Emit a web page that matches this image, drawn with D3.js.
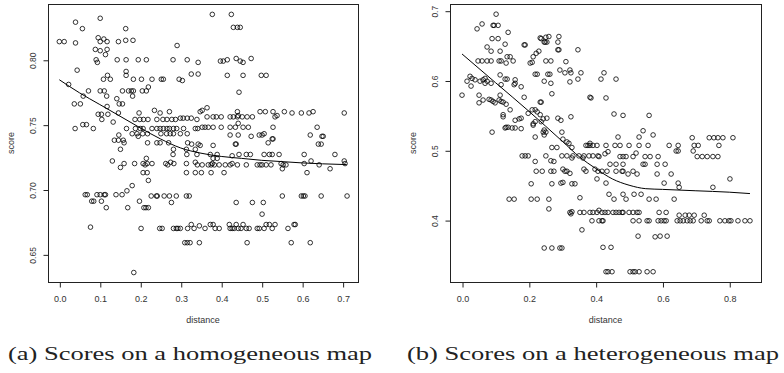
<!DOCTYPE html>
<html><head><meta charset="utf-8">
<script src="https://cdn.jsdelivr.net/npm/d3@7"></script>
<style>body{margin:0;background:#fff}</style></head>
<body><svg id="chart" width="784" height="373"></svg>
<script>
// (a) homogeneous map: [distance, score]
const homPoints = [
[0.101,0.832],[0.040,0.829],[0.057,0.824],[0.164,0.824],
[0.000,0.814],[0.012,0.814],[0.040,0.813],[0.096,0.817],[0.110,0.816],[0.101,0.814],[0.118,0.814],[0.146,0.814],[0.164,0.815],[0.182,0.815],
[0.291,0.811],[0.089,0.808],[0.101,0.807],[0.118,0.808],[0.114,0.804],
[0.091,0.800],[0.094,0.798],[0.143,0.800],[0.165,0.800],[0.195,0.800],[0.215,0.800],[0.281,0.800],[0.316,0.800],[0.343,0.798],
[0.044,0.792],[0.165,0.791],[0.165,0.788],[0.119,0.788],[0.109,0.785],[0.126,0.785],[0.183,0.785],[0.203,0.785],[0.229,0.785],[0.252,0.785],[0.257,0.785],[0.296,0.785],[0.304,0.784],[0.326,0.789],[0.343,0.789],
[0.023,0.781],[0.072,0.776],[0.101,0.776],[0.111,0.776],[0.117,0.772],[0.156,0.776],[0.171,0.776],[0.178,0.776],[0.183,0.776],[0.181,0.772],[0.205,0.776],[0.215,0.776],[0.220,0.779],[0.059,0.772],
[0.142,0.770],[0.148,0.766],[0.156,0.766],[0.037,0.766],[0.052,0.766],[0.118,0.764],
[0.096,0.758],[0.104,0.758],[0.105,0.754],[0.120,0.758],[0.133,0.752],[0.146,0.759],
[0.058,0.750],[0.067,0.750],[0.039,0.747],[0.084,0.747],[0.166,0.747],
[0.147,0.742],[0.136,0.738],[0.146,0.738],[0.158,0.738],[0.160,0.736],[0.151,0.731],
[0.197,0.759],[0.187,0.754],[0.199,0.754],[0.208,0.754],[0.219,0.754],
[0.235,0.761],[0.249,0.759],[0.272,0.760],[0.241,0.754],[0.256,0.754],[0.266,0.754],[0.278,0.754],[0.287,0.754],
[0.299,0.755],[0.306,0.755],[0.316,0.755],[0.326,0.755],[0.340,0.754],
[0.188,0.747],[0.200,0.747],[0.207,0.747],
[0.229,0.747],[0.241,0.747],[0.249,0.747],[0.257,0.747],[0.266,0.747],[0.272,0.747],[0.282,0.747],[0.290,0.747],[0.307,0.747],[0.336,0.747],[0.342,0.747],
[0.180,0.743],[0.192,0.743],[0.206,0.743],[0.218,0.743],[0.195,0.741],
[0.251,0.743],[0.265,0.743],[0.274,0.743],[0.282,0.743],[0.299,0.743],[0.316,0.743],
[0.218,0.736],[0.241,0.736],[0.249,0.736],[0.270,0.736],[0.317,0.736],[0.327,0.735],[0.343,0.735],
[0.282,0.731],[0.314,0.731],[0.336,0.731],[0.215,0.724],
[0.131,0.722],[0.151,0.717],[0.160,0.720],[0.186,0.720],[0.207,0.720],[0.212,0.719],[0.217,0.720],[0.229,0.720],[0.207,0.713],[0.217,0.713],[0.220,0.707],
[0.263,0.720],[0.268,0.719],[0.275,0.721],[0.283,0.720],[0.281,0.727],[0.315,0.727],[0.340,0.727],[0.314,0.720],[0.336,0.721],[0.341,0.719],[0.314,0.713],[0.336,0.713],
[0.180,0.703],[0.167,0.699],
[0.064,0.696],[0.069,0.696],[0.093,0.696],[0.101,0.696],[0.111,0.696],[0.114,0.696],[0.140,0.696],[0.155,0.696],
[0.080,0.691],[0.085,0.691],[0.104,0.691],[0.116,0.686],[0.169,0.686],[0.198,0.691],[0.209,0.686],[0.214,0.686],[0.220,0.686],
[0.227,0.695],[0.240,0.695],[0.242,0.695],[0.259,0.695],[0.272,0.695],[0.289,0.695],[0.314,0.695],[0.321,0.695],[0.277,0.690],
[0.077,0.671],[0.202,0.670],[0.248,0.670],[0.254,0.670],[0.282,0.670],[0.289,0.670],[0.293,0.670],[0.299,0.670],[0.317,0.670],[0.326,0.673],[0.333,0.670],[0.346,0.672],
[0.310,0.659],[0.316,0.659],[0.323,0.659],[0.346,0.659],[0.184,0.636],
[0.373,0.727],[0.390,0.727],[0.427,0.726],[0.444,0.727],[0.462,0.727],[0.472,0.727],[0.506,0.727],[0.519,0.727],[0.526,0.727],[0.543,0.727],[0.605,0.727],[0.681,0.727],
[0.380,0.724],[0.390,0.724],
[0.353,0.719],[0.368,0.719],[0.375,0.719],[0.378,0.720],[0.383,0.719],[0.395,0.719],[0.410,0.719],[0.422,0.719],[0.427,0.720],[0.440,0.719],[0.462,0.719],[0.489,0.719],[0.496,0.719],[0.501,0.719],[0.511,0.719],[0.523,0.719],[0.548,0.720],[0.553,0.719],[0.560,0.719],[0.605,0.720],[0.622,0.722],[0.642,0.719],[0.704,0.722],[0.706,0.720],
[0.551,0.716],[0.669,0.716],
[0.351,0.713],[0.375,0.713],[0.407,0.713],[0.612,0.713],
[0.551,0.695],[0.598,0.695],[0.603,0.695],[0.607,0.695],[0.647,0.695],[0.711,0.695],
[0.437,0.690],[0.477,0.690],[0.504,0.690],[0.501,0.681],
[0.360,0.670],[0.373,0.673],[0.380,0.673],[0.385,0.670],[0.395,0.670],[0.420,0.673],[0.422,0.670],[0.427,0.670],[0.432,0.670],[0.437,0.673],[0.442,0.670],[0.449,0.670],[0.454,0.673],[0.462,0.670],[0.469,0.670],[0.489,0.670],[0.494,0.670],[0.506,0.670],[0.511,0.673],[0.519,0.673],[0.526,0.670],[0.533,0.673],[0.565,0.670],[0.580,0.673],[0.583,0.673],
[0.464,0.659],[0.573,0.659],[0.620,0.659],
[0.378,0.835],[0.425,0.835],[0.430,0.825],[0.440,0.825],[0.447,0.825],
[0.398,0.799],[0.405,0.799],[0.415,0.800],[0.437,0.801],[0.447,0.799],[0.454,0.798],[0.474,0.801],
[0.415,0.788],[0.454,0.788],[0.499,0.788],[0.511,0.788],[0.444,0.775],
[0.348,0.760],[0.353,0.761],[0.365,0.763],[0.440,0.760],[0.442,0.757],[0.496,0.760],[0.509,0.760],[0.528,0.760],[0.538,0.757],[0.533,0.756],[0.556,0.760],[0.575,0.759],[0.598,0.759],[0.617,0.759],[0.627,0.760],[0.704,0.759],
[0.365,0.756],[0.380,0.756],[0.388,0.756],[0.400,0.756],[0.422,0.756],[0.430,0.756],[0.440,0.756],[0.452,0.756],[0.464,0.756],[0.477,0.756],
[0.353,0.748],[0.360,0.748],[0.368,0.748],[0.380,0.748],[0.400,0.748],[0.422,0.748],[0.435,0.748],[0.442,0.751],[0.454,0.748],[0.467,0.748],[0.528,0.748],[0.637,0.748],
[0.422,0.742],[0.442,0.742],[0.474,0.741],[0.494,0.742],[0.501,0.742],[0.506,0.743],[0.620,0.742],[0.649,0.741],[0.652,0.741],
[0.516,0.736],[0.528,0.739],[0.526,0.739],[0.640,0.735],[0.647,0.735],[0.435,0.735],[0.437,0.735],[0.348,0.734],[0.380,0.734]
];
// (b) heterogeneous map: [distance, score]
const hetPoints = [
[0.102,0.695],[0.060,0.681],[0.045,0.674],[0.093,0.679],[0.096,0.679],[0.108,0.679],[0.138,0.669],[0.090,0.660],[0.108,0.660],
[0.075,0.648],[0.087,0.642],[0.114,0.642],[0.129,0.652],
[0.048,0.628],[0.060,0.628],[0.075,0.628],[0.087,0.628],[0.111,0.628],[0.117,0.628],[0.153,0.628],
[0.135,0.634],[0.144,0.634],[0.132,0.625],[0.114,0.608],[0.129,0.602],[0.135,0.602],
[0.024,0.606],[0.015,0.599],[0.030,0.603],[0.039,0.601],[0.027,0.592],
[0.054,0.599],[0.063,0.601],[0.069,0.603],[0.069,0.596],[0.075,0.599],[0.087,0.596],[0.117,0.594],[0.159,0.601],[0.159,0.596],[0.156,0.594],
[0.000,0.579],[0.051,0.579],[0.051,0.568],[0.063,0.572],
[0.081,0.573],[0.087,0.572],[0.093,0.570],[0.099,0.568],[0.111,0.572],[0.117,0.570],[0.123,0.569],[0.132,0.566],[0.114,0.579],
[0.177,0.591],[0.186,0.576],[0.144,0.558],[0.123,0.551],[0.123,0.548],[0.159,0.543],[0.171,0.545],[0.177,0.546],
[0.129,0.532],[0.132,0.533],[0.138,0.533],[0.150,0.532],[0.159,0.532],[0.177,0.531],[0.090,0.526],
[0.210,0.558],[0.198,0.553],[0.213,0.538],[0.180,0.492],[0.189,0.492],[0.198,0.492],
[0.251,0.662],[0.234,0.661],[0.237,0.660],[0.246,0.655],[0.249,0.655],[0.254,0.655],[0.260,0.663],[0.287,0.655],[0.290,0.663],
[0.186,0.651],[0.189,0.651],[0.287,0.644],[0.290,0.644],[0.347,0.644],[0.230,0.642],
[0.222,0.639],[0.213,0.634],[0.210,0.626],[0.204,0.625],[0.251,0.628],[0.266,0.628],[0.311,0.627],
[0.293,0.615],[0.323,0.615],[0.326,0.611],[0.308,0.611],[0.356,0.611],[0.347,0.602],[0.323,0.598],
[0.219,0.609],[0.225,0.609],[0.257,0.609],[0.263,0.609],[0.246,0.599],[0.266,0.596],[0.269,0.581],
[0.234,0.569],[0.237,0.569],[0.219,0.558],[0.225,0.555],
[0.234,0.551],[0.243,0.545],[0.254,0.546],[0.237,0.541],[0.287,0.546],[0.296,0.543],[0.219,0.541],[0.213,0.536],
[0.246,0.529],[0.243,0.526],[0.251,0.526],[0.246,0.522],[0.219,0.519],[0.299,0.526],[0.326,0.548],[0.383,0.576],
[0.269,0.504],[0.284,0.504],[0.302,0.516],[0.314,0.512],[0.320,0.510],[0.329,0.504],
[0.299,0.492],[0.314,0.492],[0.332,0.492],[0.350,0.492],[0.365,0.492],[0.380,0.492],[0.392,0.492],[0.407,0.492],[0.251,0.492],
[0.371,0.507],[0.377,0.507],[0.383,0.507],[0.392,0.507],[0.404,0.507],[0.383,0.510],
[0.416,0.602],[0.425,0.611],[0.461,0.602],[0.386,0.575],[0.431,0.575],
[0.455,0.552],[0.482,0.550],[0.560,0.550],
[0.542,0.528],[0.530,0.519],[0.572,0.522],[0.467,0.519],
[0.689,0.518],[0.740,0.518],[0.754,0.518],[0.766,0.518],[0.781,0.518],[0.811,0.518],
[0.431,0.507],[0.458,0.507],[0.473,0.507],[0.500,0.507],[0.530,0.507],[0.557,0.507],[0.620,0.507],[0.647,0.507],[0.647,0.499],[0.641,0.499],[0.695,0.507],[0.707,0.507],[0.769,0.507],[0.692,0.499],
[0.437,0.498],[0.428,0.495],[0.410,0.491],
[0.473,0.491],[0.482,0.491],[0.548,0.491],[0.563,0.491],[0.587,0.491],[0.704,0.491],[0.719,0.491],[0.734,0.491],[0.751,0.491],[0.766,0.491],[0.521,0.496],
[0.266,0.485],[0.275,0.484],[0.329,0.489],[0.362,0.489],[0.219,0.484],
[0.222,0.470],[0.240,0.470],[0.266,0.470],[0.275,0.470],[0.302,0.473],[0.308,0.470],[0.314,0.470],[0.323,0.467],[0.365,0.473],[0.371,0.470],[0.398,0.473],[0.407,0.470],
[0.207,0.452],[0.269,0.452],[0.296,0.453],[0.302,0.454],[0.329,0.452],[0.338,0.452],[0.404,0.459],
[0.141,0.430],[0.156,0.430],[0.207,0.430],[0.225,0.430],[0.260,0.430],[0.260,0.416],[0.353,0.432],
[0.323,0.411],[0.329,0.412],[0.326,0.409],[0.353,0.411],[0.365,0.411],[0.383,0.411],[0.392,0.411],[0.404,0.411],[0.410,0.414],
[0.389,0.399],[0.410,0.399],[0.359,0.386],
[0.246,0.360],[0.269,0.360],[0.293,0.360],[0.299,0.360],
[0.491,0.491],[0.512,0.491],
[0.443,0.480],[0.461,0.480],[0.482,0.480],[0.542,0.480],[0.548,0.480],[0.584,0.480],[0.608,0.480],
[0.419,0.470],[0.434,0.470],[0.461,0.470],[0.479,0.470],[0.482,0.470],[0.497,0.466],[0.512,0.470],[0.524,0.466],[0.584,0.466],[0.626,0.466],
[0.431,0.453],[0.605,0.453],[0.647,0.453],[0.650,0.447],[0.751,0.447],[0.802,0.459],
[0.440,0.437],[0.455,0.430],[0.482,0.437],[0.491,0.430],[0.515,0.437],[0.536,0.437],[0.560,0.430],[0.581,0.430],[0.635,0.430],
[0.419,0.411],[0.428,0.411],[0.437,0.411],[0.452,0.411],[0.461,0.411],[0.470,0.411],[0.479,0.411],[0.482,0.411],[0.500,0.411],[0.512,0.411],[0.524,0.411],[0.530,0.411],[0.590,0.411],[0.611,0.411],
[0.650,0.407],[0.668,0.407],[0.680,0.407],[0.695,0.407],[0.725,0.407],
[0.419,0.399],[0.422,0.399],[0.512,0.399],[0.530,0.399],[0.554,0.399],[0.560,0.399],[0.587,0.399],[0.596,0.399],[0.605,0.399],[0.611,0.399],[0.644,0.399],[0.653,0.399],[0.662,0.399],[0.674,0.399],[0.683,0.399],[0.692,0.399],[0.716,0.399],[0.734,0.399],[0.740,0.399],[0.772,0.399],[0.787,0.399],[0.799,0.399],[0.805,0.399],[0.826,0.399],[0.847,0.399],[0.862,0.399],
[0.527,0.377],[0.578,0.376],[0.593,0.377],[0.614,0.377],
[0.422,0.361],[0.446,0.361],
[0.431,0.326],[0.437,0.326],[0.449,0.326],[0.503,0.326],[0.512,0.326],[0.518,0.326],[0.530,0.326],[0.554,0.326],[0.572,0.326]
];
// smoothed trend lines
const homCurveDist  = [0, 0.05, 0.1, 0.15, 0.2, 0.25, 0.3, 0.35, 0.4, 0.45, 0.5, 0.55, 0.6, 0.65, 0.71];
const homCurveScore = [0.7846, 0.7745, 0.7655, 0.7565, 0.7475, 0.7390, 0.7320, 0.7280, 0.7255, 0.7240, 0.7225, 0.7215, 0.7205, 0.7198, 0.7192];
const hetCurveDist  = [0, 0.1, 0.2, 0.3, 0.353, 0.4, 0.45, 0.5, 0.55, 0.6, 0.7, 0.8, 0.862];
const hetCurveScore = [0.638, 0.597, 0.556, 0.513, 0.490, 0.474, 0.459, 0.450, 0.445, 0.444, 0.442, 0.440, 0.438];
// ticks
const homXTicks = [0, 0.1, 0.2, 0.3, 0.4, 0.5, 0.6, 0.7];
const homYTicks = [0.65, 0.70, 0.75, 0.80];
const hetXTicks = [0, 0.2, 0.4, 0.6, 0.8];
const hetYTicks = [0.4, 0.5, 0.6, 0.7];
const captions = ["(a) Scores on a homogeneous map", "(b) Scores on a heterogeneous map"];
const xLabel = "distance", yLabel = "score";

const panels = [
  {pts: homPoints, cd: homCurveDist, cs: homCurveScore, left: 48, right: 358, xDom: [-0.028, 0.738], yDom: [0.6287, 0.843],
   xt: homXTicks, yt: homYTicks, yf: d3.format(".2f"), xf: d3.format(".1f"), cap: captions[0], capX: 190, capW: 364},
  {pts: hetPoints, cd: hetCurveDist, cs: hetCurveScore, left: 450, right: 761, xDom: [-0.036, 0.895], yDom: [0.3113, 0.7096],
   xt: hetXTicks, yt: hetYTicks, yf: d3.format(".1f"), xf: d3.format(".1f"), cap: captions[1], capX: 593, capW: 372}
];
const plotTop = 4, plotBottom = 282;
const svg = d3.select("#chart");
const sans = "'Liberation Sans', Arial, Helvetica, sans-serif";

panels.forEach(p => {
  const x = d3.scaleLinear().domain(p.xDom).range([p.left, p.right]);
  const y = d3.scaleLinear().domain(p.yDom).range([plotBottom, plotTop]);
  const g = svg.append("g");

  g.append("g").selectAll("circle").data(p.pts).join("circle")
    .attr("cx", d => x(d[0])).attr("cy", d => y(d[1])).attr("r", 2.3)
    .attr("fill", "none").attr("stroke", "#000").attr("stroke-width", 0.8);

  const line = d3.line().x(d => x(d[0])).y(d => y(d[1])).curve(d3.curveMonotoneX);
  g.append("path").datum(p.cd.map((d, i) => [d, p.cs[i]]))
    .attr("d", line).attr("fill", "none").attr("stroke", "#000").attr("stroke-width", 1);

  g.append("rect").attr("x", p.left + 0.5).attr("y", plotTop + 0.5)
    .attr("width", p.right - p.left).attr("height", plotBottom - plotTop)
    .attr("fill", "none").attr("stroke", "#222").attr("stroke-width", 1);

  const xa = g.append("g").attr("transform", `translate(0.5,${plotBottom + 0.5})`)
    .call(d3.axisBottom(x).tickValues(p.xt).tickFormat(p.xf).tickSize(5).tickPadding(8));
  xa.select(".domain").remove();
  xa.selectAll("line").attr("stroke", "#222");
  xa.selectAll("text").attr("font-family", sans).attr("font-size", 9).attr("fill", "#333");

  const ya = g.append("g").attr("transform", `translate(${p.left + 0.5},0.5)`)
    .call(d3.axisLeft(y).tickValues(p.yt).tickFormat(p.yf).tickSize(5));
  ya.select(".domain").remove();
  ya.selectAll("line").attr("stroke", "#222");
  ya.selectAll("text").attr("font-family", sans).attr("font-size", 8.5).attr("fill", "#333")
    .attr("x", null).attr("dy", null).attr("text-anchor", "middle")
    .attr("transform", "translate(-13,0) rotate(-90)");

  g.append("text").attr("x", (p.left + p.right) / 2).attr("y", 323).attr("text-anchor", "middle")
    .attr("font-family", sans).attr("font-size", 9).attr("fill", "#333").text(xLabel);
  g.append("text").attr("transform", `translate(${p.left - 34.5},${(plotTop + plotBottom) / 2}) rotate(-90)`)
    .attr("text-anchor", "middle").attr("font-family", sans).attr("font-size", 9).attr("fill", "#333").text(yLabel);

  g.append("text").attr("x", p.capX).attr("y", 360).attr("text-anchor", "middle")
    .attr("font-family", "'Liberation Serif', 'Times New Roman', serif").attr("font-size", 19.5)
    .attr("textLength", p.capW).attr("lengthAdjust", "spacingAndGlyphs")
    .attr("fill", "#222").text(p.cap);
});
</script></body></html>
